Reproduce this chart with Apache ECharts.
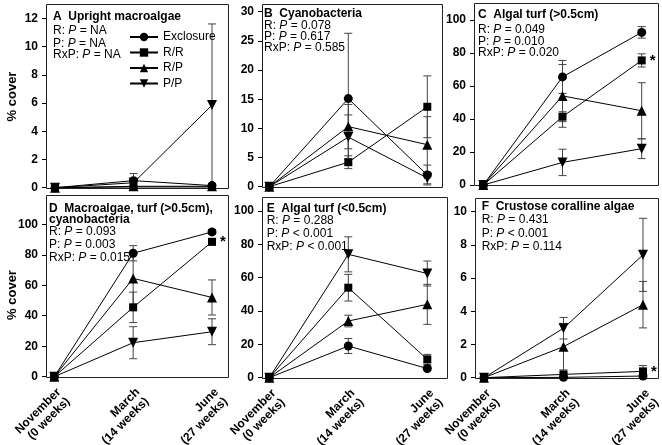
<!DOCTYPE html>
<html><head><meta charset="utf-8">
<script src="https://cdn.jsdelivr.net/npm/echarts@6/dist/echarts.min.js"></script>
<style>html,body{margin:0;padding:0;background:#fff}#c{width:662px;height:445px}</style>
</head><body><div id="c"></div><script>
// ---------------- DATA ----------------
const categories = ['November\n(0 weeks)', 'March\n(14 weeks)', 'June\n(27 weeks)'];
const treatments = ['Exclosure', 'R/R', 'R/P', 'P/P'];

// rows: Exclosure, R/R, R/P, P/P ; columns: November, March, June
const meansA = [[0, 0.5, 0.15], [0, 0.05, 0.05], [0, 0.1, 0.1], [0, 0.35, 5.85]];
const errsA  = [[0, 0.5, 0.1], [0, 0, 0], [0, 0, 0], [0, 0.2, 5.75]];
const meansB = [[0, 15.1, 2.0], [0, 4.2, 13.7], [0, 10.3, 7.2], [0, 8.5, 1.5]];
const errsB  = [[0, 11.2, 1.7], [0, 1.1, 5.3], [0, 3.8, 4.8], [0, 3.8, 1.0]];
const meansC = [[0, 65.5, 92.5], [0, 41.4, 75.5], [0, 54, 45], [0, 13.7, 22]];
const errsC  = [[0, 10, 3.5], [0, 3, 4], [0, 19, 17], [0, 8, 6]];
const meansD = [[0, 81, 95], [0, 45.5, 88.5], [0, 64.5, 52], [0, 22.3, 29.5]];
const errsD  = [[0, 5, 1.5], [0, 10, 2], [0, 17, 11.5], [0, 10.5, 8.5]];
const meansE = [[0, 19, 5.5], [0, 54, 11], [0, 34, 44], [0, 74, 62.5]];
const errsE  = [[0, 4.5, 1], [0, 8, 3], [0, 3.5, 12], [0, 10.5, 7.5]];
const meansF = [[0, 0.02, 0.1], [0, 0.2, 0.38], [0, 1.87, 4.4], [0, 2.98, 7.4]];
const errsF  = [[0, 0, 0.05], [0, 0.1, 0.35], [0, 1.4, 1.4], [0, 0.65, 2.2]];

const yTicksA = [0, 2, 4, 6, 8, 10, 12];
const yTicksB = [0, 5, 10, 15, 20, 25, 30];
const yTicksC = [0, 20, 40, 60, 80, 100];
const yTicksD = [0, 20, 40, 60, 80, 100];
const yTicksE = [0, 20, 40, 60, 80, 100];
const yTicksF = [0, 2, 4, 6, 8, 10];

const titlesA = ['A  Upright macroalgae'];
const titlesB = ['B  Cyanobacteria'];
const titlesC = ['C  Algal turf (>0.5cm)'];
const titlesD = ['D  Macroalgae, turf (>0.5cm),', 'cyanobacteria'];
const titlesE = ['E  Algal turf (<0.5cm)'];
const titlesF = ['F  Crustose coralline algae'];
const statTerms = ['R', 'P', 'RxP'];
const statsA = ['= NA', '= NA', '= NA'];
const statsB = ['= 0.078', '= 0.617', '= 0.585'];
const statsC = ['= 0.049', '= 0.010', '= 0.020'];
const statsD = ['= 0.093', '= 0.003', '= 0.015'];
const statsE = ['= 0.288', '< 0.001', '< 0.001'];
const statsF = ['= 0.431', '< 0.001', '= 0.114'];
const asteriskPanels = ['C', 'D', 'F']; // R/R at June marked "*"

// ---------------- LAYOUT ----------------
const FONT = '"Liberation Sans", Arial, sans-serif';
const panels = [
  {key:'A', means:meansA, errs:errsA, ticks:yTicksA, titles:titlesA, stats:statsA,
   plot:[55,18.3,212,187.7], frame:[46,4,228,187.5], tx:53, ty:[16.7,31,43.3,55], xlab:false},
  {key:'B', means:meansB, errs:errsB, ticks:yTicksB, titles:titlesB, stats:statsB,
   plot:[269.3,11.7,427.3,186.7], frame:[262,4,442,186.7], tx:264, ty:[14,25.7,36.5,47.3], xlab:false},
  {key:'C', means:meansC, errs:errsC, ticks:yTicksC, titles:titlesC, stats:statsC,
   plot:[483.3,20,641.7,185], frame:[474,3.3,658,185], tx:478, ty:[15,30,41.5,53], xlab:false},
  {key:'D', means:meansD, errs:errsD, ticks:yTicksD, titles:titlesD, stats:statsD,
   plot:[54.3,224.3,212,376.7], frame:[46,195,228,377], tx:49, ty:[208.3,219.5,231.5,244.5,257.5], xlab:true},
  {key:'E', means:meansE, errs:errsE, ticks:yTicksE, titles:titlesE, stats:statsE,
   plot:[269.3,211,427.3,377.7], frame:[262,197,447,378], tx:266.7, ty:[208.3,221,233.3,246.7], xlab:true},
  {key:'F', means:meansF, errs:errsF, ticks:yTicksF, titles:titlesF, stats:statsF,
   plot:[484,211.7,643,377.7], frame:[475,198,658,378], tx:481.7, ty:[206.7,220,233.3,246.7], xlab:true}
];
const symbols = ['circle', 'rect', 'triangle', 'path://M0,0 L10,0 L5,10 Z'];
const symbolSizes = [9, 8, 10, 10];

const grids = [], xAxes = [], yAxes = [], series = [], graphics = [];

function renderErr(params, api) {
  const lo = api.coord([api.value(0), api.value(1)]);
  const hi = api.coord([api.value(0), api.value(2)]);
  const w = 4, st = {stroke:'#444', lineWidth:1};
  return {type:'group', children:[
    {type:'line', shape:{x1:hi[0], y1:hi[1], x2:lo[0], y2:lo[1]}, style:st},
    {type:'line', shape:{x1:hi[0]-w, y1:hi[1], x2:hi[0]+w, y2:hi[1]}, style:st},
    {type:'line', shape:{x1:lo[0]-w, y1:lo[1], x2:lo[0]+w, y2:lo[1]}, style:st}
  ]};
}

panels.forEach((p, i) => {
  const [l, t, r, b] = p.plot;
  grids.push({left:l, top:t, width:r-l, height:b-t, containLabel:false, outerBoundsMode:'none'});
  xAxes.push({type:'category', gridIndex:i, data:categories, boundaryGap:false,
    axisLine:{show:false}, axisTick:{show:false}, splitLine:{show:false},
    axisLabel:{show:p.xlab, rotate:45, margin:9, fontSize:12, fontWeight:'bold', color:'#000',
      fontFamily:FONT, lineHeight:13, interval:0, verticalAlign:'top'}});
  const tk = p.ticks;
  yAxes.push({type:'value', gridIndex:i, min:tk[0], max:tk[tk.length-1], interval:tk[1]-tk[0],
    offset: l - p.frame[0],
    axisLine:{show:false}, splitLine:{show:false},
    axisTick:{show:true, length:4, lineStyle:{color:'#000', width:1}},
    axisLabel:{margin:8, fontSize:12, fontWeight:'bold', color:'#000', fontFamily:FONT}});
  // frame
  const f = p.frame;
  graphics.push({type:'rect', silent:true, z:0,
    shape:{x:Math.round(f[0])+0.5, y:Math.round(f[1])+0.5, width:Math.round(f[2]-f[0]), height:Math.round(f[3]-f[1])},
    style:{fill:'none', stroke:'#222', lineWidth:1}});
  // texts
  const rich = {
    b:{fontSize:12, fontWeight:'bold', fontFamily:FONT, fill:'#000'},
    n:{fontSize:12, fontFamily:FONT, fill:'#000'},
    i:{fontSize:12, fontStyle:'italic', fontFamily:FONT, fill:'#000'}
  };
  let k = 0;
  p.titles.forEach(tt => {
    graphics.push({type:'text', x:p.tx, y:p.ty[k++], z:10,
      style:{text:'{b|' + tt + '}', rich, align:'left', verticalAlign:'middle'}});
  });
  statTerms.forEach((term, j) => {
    graphics.push({type:'text', x:p.tx, y:p.ty[k++], z:10,
      style:{text:'{n|' + term + ': }{i|P}{n| ' + p.stats[j] + '}', rich, align:'left', verticalAlign:'middle'}});
  });
  // series
  treatments.forEach((name, j) => {
    const data = p.means[j].map((v, c) => {
      if (name === 'R/R' && c === 2 && asteriskPanels.includes(p.key)) {
        return {value:v, label:{show:true, formatter:'*', position:'right', distance:4,
          fontSize:15, fontWeight:'bold', color:'#000', fontFamily:FONT}};
      }
      return v;
    });
    series.push({type:'line', name, xAxisIndex:i, yAxisIndex:i, data,
      symbol:symbols[j], symbolSize:symbolSizes[j], showAllSymbol:true,
      itemStyle:{color:'#000', borderWidth:0}, lineStyle:{color:'#000', width:1},
      z:3, emphasis:{disabled:true}, animation:false});
    const eb = [];
    p.means[j].forEach((v, c) => {
      const e = p.errs[j][c];
      if (e > 0) eb.push([c, v - e, v + e]);
    });
    if (eb.length) series.push({type:'custom', name:'err' + p.key + j, xAxisIndex:i, yAxisIndex:i,
      data:eb, encode:{x:0, y:[1, 2]}, renderItem:renderErr, z:2, silent:true, animation:false});
  });
});

// y-axis titles
[[12.5, 96.5], [12.5, 295]].forEach(([x, y]) => {
  graphics.push({type:'text', x, y, rotation:Math.PI/2, z:10,
    style:{text:'% cover', fontSize:13, fontWeight:'bold', fontFamily:FONT, fill:'#000', align:'center', verticalAlign:'middle'}});
});

const chart = echarts.init(document.getElementById('c'), null, {renderer:'canvas'});
chart.setOption({
  animation:false,
  backgroundColor:'#fff',
  textStyle:{fontFamily:FONT},
  grid:grids, xAxis:xAxes, yAxis:yAxes, series,
  legend:{data:treatments, orient:'vertical', left:124, top:26, itemWidth:28, itemHeight:10.5, itemGap:3.5,
    textStyle:{fontSize:12, color:'#000', fontFamily:FONT}, selectedMode:false},
  graphic:graphics
});
</script></body></html>
